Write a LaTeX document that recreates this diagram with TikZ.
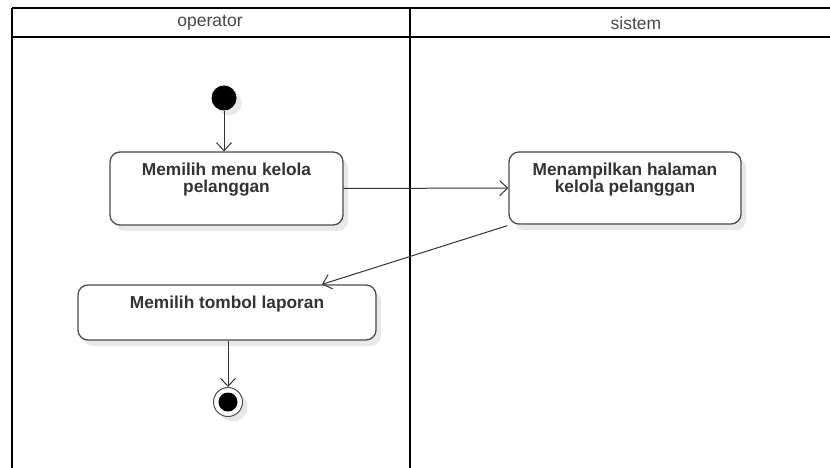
\documentclass[tikz,border=0pt]{standalone}
\usepackage{fontspec}
\setmainfont{Liberation Sans}
\usetikzlibrary{arrows.meta,shadows}

\begin{document}
\begin{tikzpicture}[
x=1pt, y=-1pt,
lane/.style={draw=black, line width=1.7pt},
lanetitle/.style={text=black!72, font=\fontsize{17.5}{19}\selectfont},
actnode/.style={draw=black!70, line width=1.3pt, rounded corners=10pt, fill=white, drop shadow={shadow xshift=5pt, shadow yshift=-6pt, fill=black!9, opacity=1}},
acttext/.style={anchor=north, yshift=-8.5pt, align=center, text=black!80, font=\bfseries\fontsize{17.3}{16.5}\selectfont},
flow/.style={draw=black!80, line width=1pt, -{Straight Barb[length=8pt, width=15pt, line width=1pt]}},
]
    \useasboundingbox (0,0) rectangle (830,468);

    % swimlanes
    \draw[lane] (12,8) -- (830,8);
    \draw[lane] (12,37) -- (830,37);
    \draw[lane] (12,8) -- (12,468);
    \draw[lane] (410,8) -- (410,468);
    \node [lanetitle] (opr) at (210,23) {operator};
    \node [lanetitle] (sys) at (636,23) {sistem};

    % activities
    \node [circle, fill=black, minimum size=25pt, inner sep=0pt, drop shadow={shadow xshift=5pt, shadow yshift=-5pt, fill=black!9, opacity=1}] (start) at (224,98) {};
    \node [actnode, minimum width=233pt, minimum height=73pt, label={[acttext]north:Memilih menu kelola\\pelanggan}] (a1) at (226.5,188.5) {};
    \node [actnode, minimum width=232pt, minimum height=72pt, label={[acttext]north:Menampilkan halaman\\kelola pelanggan}] (a2) at (625,188) {};
    \node [actnode, minimum width=298pt, minimum height=55pt, label={[acttext]north:Memilih tombol laporan}] (a3) at (227,312.5) {};
    \node [circle, draw=black!70, line width=1pt, fill=white, minimum size=29pt, inner sep=0pt, drop shadow={shadow xshift=5pt, shadow yshift=-5pt, fill=black!9, opacity=1}] (end) at (228,402) {};
    \node [circle, fill=black, minimum size=19pt, inner sep=0pt] (endin) at (end) {};

    \draw[flow] (start) -- (start |- a1.north);
    \draw[flow] (a1) -- (a2);
    \draw[flow] ([xshift=-1pt,yshift=-1pt]a2.south west) -- ([xshift=95pt]a3.north);
    \draw[flow] (a3.south -| end) -- (end);
\end{tikzpicture}
\end{document}
